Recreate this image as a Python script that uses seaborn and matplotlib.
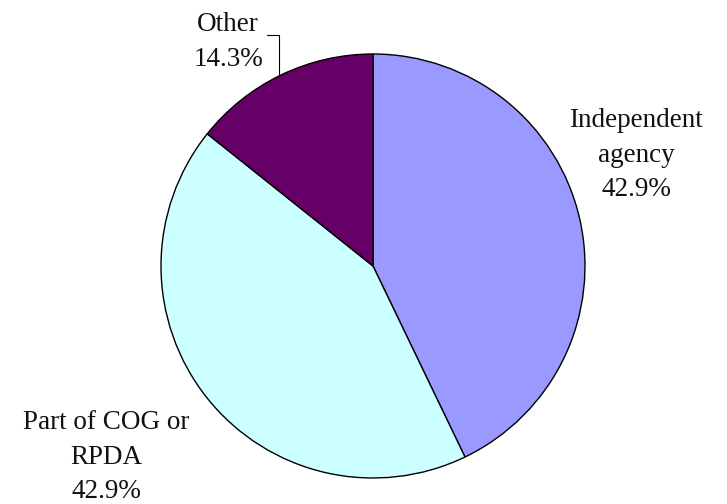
import numpy as np
import pandas as pd
import matplotlib.pyplot as plt
import seaborn as sns

# Chart data
categories = ['Independent\nagency', 'Part of COG or\nRPDA', 'Other']
shares = [3, 3, 1]
colors = ['#9999FF', '#CCFFFF', '#660066']

sns.set_style('white')
plt.rcParams['font.family'] = ['Liberation Serif', 'DejaVu Serif']

fig = plt.figure(figsize=(7.27, 5.04), dpi=100)
ax = fig.add_axes([0, 0, 1, 1])

# pie in pixel-like coordinates (y inverted -> counterclock=True draws clockwise)
ax.pie(shares, colors=colors, startangle=-90, counterclock=True,
       center=(373, 266), radius=212, frame=True,
       wedgeprops=dict(edgecolor='black', linewidth=1.0))
ax.set_xlim(0, 727)
ax.set_ylim(504, 0)
ax.set_aspect('equal')
ax.axis('off')

pct = [s / sum(shares) * 100 for s in shares]
label_pos = [(636, 155), (106, 457), (228, 42)]
for cat, p, (x, y) in zip(categories, pct, label_pos):
    ax.text(x, y, f'{cat}\n{p:.1f}%', ha='center', va='center',
            fontsize=19.5, linespacing=1.5, color='#111111')

# leader line for "Other"
ax.plot([267, 279, 279], [35, 35, 74], color='black', linewidth=0.8)

fig.savefig('out.png', dpi=100)
